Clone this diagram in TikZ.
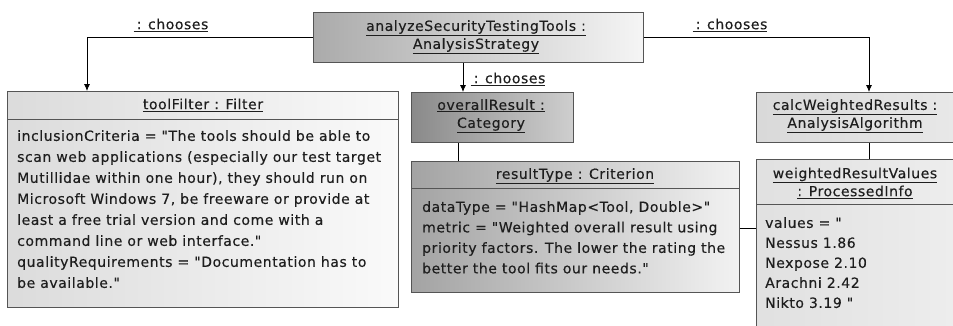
\documentclass[tikz,border=0pt]{standalone}
\usepackage{fontspec}
\setmainfont{DejaVu Sans}[Ligatures=TeXOff, LetterSpace=4, FakeBold=0.3]
\usetikzlibrary{arrows.meta}

\definecolor{boxline}{HTML}{555555}
\definecolor{ink}{HTML}{1E1E1E}
\newcommand{\dq}{\char34\relax}

\tikzset{
  objbox/.style={draw=boxline, line width=0.8pt, rectangle, inner sep=0pt, anchor=north west},
  hdrtext/.style={text=ink, align=center, inner sep=0pt, font=\fontsize{14}{18}\selectfont},
  bodytext/.style={text=ink, align=left, inner sep=0pt, anchor=north west, font=\fontsize{14}{21}\selectfont},
  lbl/.style={text=ink, inner sep=0pt, font=\fontsize{14}{18}\selectfont},
  link/.style={draw=black, line width=0.8pt},
  arr/.style={link, -{Latex[length=7pt,width=6pt]}},
  sep/.style={draw=boxline, line width=0.8pt}
}

\begin{document}
\begin{tikzpicture}[x=1pt,y=-1pt]
\clip (0,0) rectangle (953,325);
\fill[white] (0,0) rectangle (953,325);

% object boxes
\node[objbox, minimum width=330, minimum height=50, left color=black!33, right color=black!4] (ast) at (313,12) {};
\node[objbox, minimum width=391, minimum height=216, left color=black!14, right color=black!2] (tf) at (7,91) {};
\node[objbox, minimum width=162, minimum height=50, left color=black!46, right color=black!19] (ovr) at (411,92) {};
\node[objbox, minimum width=328, minimum height=131, left color=black!36, right color=black!5] (rt) at (411,161) {};
\node[objbox, minimum width=199, minimum height=50, left color=black!15, right color=black!9] (calc) at (756,92) {};
\node[objbox, minimum width=199, minimum height=200, left color=black!12, right color=black!7] (wrv) at (756,159) {};

% compartment separators
\draw[sep] (tf.north west) ++(0,28) -- ++(391,0);
\draw[sep] (rt.north west) ++(0,27) -- ++(328,0);
\draw[sep] (wrv.north west) ++(0,45) -- ++(199,0);

% headers
\node[hdrtext] (astT) at (476,37) {\underline{analyzeSecurityTestingTools :}\\\underline{AnalysisStrategy}};
\node[hdrtext] (tfT) at (203,105) {\underline{toolFilter : Filter}};
\node[hdrtext] (ovrT) at (491,116) {\underline{overallResult :}\\\underline{Category}};
\node[hdrtext] (rtT) at (575,176) {\underline{resultType : Criterion}};
\node[hdrtext] (calcT) at (855,116) {\underline{calcWeightedResults :}\\\underline{AnalysisAlgorithm}};
\node[hdrtext] (wrvT) at (855,183) {\underline{weightedResultValues}\\\underline{: ProcessedInfo}};

% attribute compartments
\node[bodytext] (tfB) at (17,130) {inclusionCriteria = \dq The tools should be able to\\
scan web applications (especially our test target\\
Mutillidae within one hour), they should run on\\
Microsoft Windows 7, be freeware or provide at\\
least a free trial version and come with a\\
command line or web interface.\dq\\
qualityRequirements = \dq Documentation has to\\
be available.\dq};
\node[bodytext, font=\fontsize{14}{20.5}\selectfont] (rtB) at (422,201) {dataType = \dq HashMap<Tool, Double>\dq\\
metric = \dq Weighted overall result using\\
priority factors. The lower the rating the\\
better the tool fits our needs.\dq};
\node[bodytext, font=\fontsize{14}{20}\selectfont] (wrvB) at (765,217) {values = \dq\\
Nessus 1.86\\
Nexpose 2.10\\
Arachni 2.42\\
Nikto 3.19 \dq};

% links
\coordinate (bendL) at (87,37);
\coordinate (bendR) at (869,37);
\coordinate (midX) at (463,0);
\coordinate (ovrX) at (458,0);
\coordinate (rtY) at (0,228);
\draw[arr] (ast.west) -| (tf.north -| bendL);
\draw[arr] (ast.east) -| (calc.north -| bendR);
\draw[arr] (ast.south -| midX) -- (ovr.north -| midX);
\draw[link] (ovr.south -| ovrX) -- (rt.north -| ovrX);
\draw[link] (calc.south -| bendR) -- (wrv.north -| bendR);
\draw[link] (rt.east |- rtY) -- (wrv.west |- rtY);

% link labels
\node[lbl] (lblL) at (171,25) {\underline{\hspace{3pt}: chooses}};
\node[lbl] (lblR) at (730,25) {\underline{\hspace{3pt}: chooses}};
\node[lbl] (lblM) at (508,79) {\underline{\hspace{3pt}: chooses}};
\end{tikzpicture}
\end{document}
